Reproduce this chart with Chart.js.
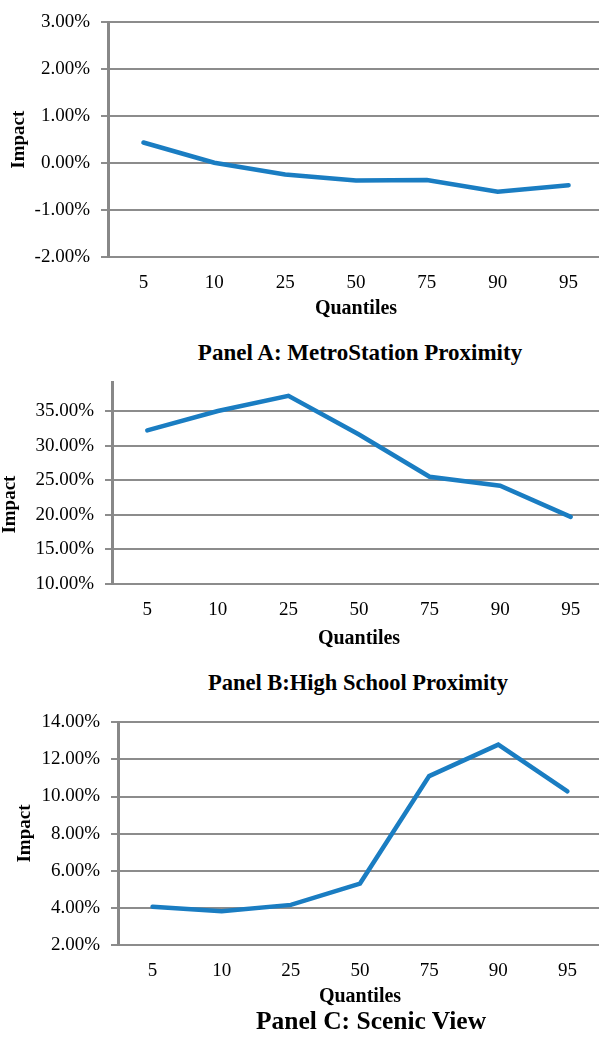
<!DOCTYPE html>
<html>
<head>
<meta charset="utf-8">
<script src="https://cdn.jsdelivr.net/npm/chart.js@4.4.0/dist/chart.umd.min.js"></script>
<style>
body { margin: 0; background: #fff; }
#wrap { position: relative; width: 599px; height: 1044px; overflow: hidden; background: #fff; }
.box { position: absolute; left: 0; }
.box canvas { display: block; }
.ptitle {
	position: absolute;
	font-family: 'Liberation Serif', 'Times New Roman', serif;
	font-weight: bold;
	font-size: 23px;
	color: #000;
	white-space: nowrap;
	transform: translate(-50%, -50%);
}
</style>
</head>
<body>
<div id="wrap">
	<div class="box" style="top:0px"><canvas id="chartA" width="604" height="322"></canvas></div>
	<div class="ptitle" style="left:360px;top:353px">Panel A: MetroStation Proximity</div>
	<div class="box" style="top:360px"><canvas id="chartB" width="606" height="300"></canvas></div>
	<div class="ptitle" style="left:358px;top:683px;font-size:22.5px">Panel B:High School Proximity</div>
	<div class="box" style="top:700px"><canvas id="chartC" width="602" height="320"></canvas></div>
	<div class="ptitle" style="left:371px;top:1021px;font-size:25.5px">Panel C: Scenic View</div>
</div>
<script>
// quantile categories shared by all three panels
const quantiles = ['5', '10', '25', '50', '75', '90', '95'];

// impact in percent
const metroImpact = [0.44, 0.01, -0.24, -0.37, -0.36, -0.61, -0.47];
const schoolImpact = [32.2, 35.0, 37.2, 31.6, 25.5, 24.2, 19.7];
const scenicImpact = [4.05, 3.80, 4.15, 5.30, 11.10, 12.80, 10.28];

// y axis ranges [min, max, step]
const metroRange = [-2, 3, 1];
const schoolRange = [10, 39.13, 5];
const scenicRange = [2, 14, 2];

const serif = "'Liberation Serif', 'Times New Roman', serif";
const gridColor = '#8c8c8c';
const lineColor = '#1a7dc2';

Chart.defaults.font.family = serif;
Chart.defaults.color = '#000';

function makeChart(id, values, range, o) {
	const ctx = document.getElementById(id).getContext('2d');
	return new Chart(ctx, {
		type: 'line',
		data: {
			labels: quantiles,
			datasets: [
				{
					data: values,
					borderColor: lineColor,
					borderWidth: 4.5,
					borderCapStyle: 'round',
					pointRadius: 0,
					tension: 0,
					fill: false,
				},
			],
		},
		options: {
			responsive: false,
			animation: false,
			devicePixelRatio: 1,
			layout: { padding: { top: o.padTop, left: 0, right: 0, bottom: 0 } },
			plugins: { legend: { display: false }, tooltip: { enabled: false } },
			scales: {
				x: {
					offset: true,
					grid: { display: false },
					border: { display: false },
					ticks: { padding: 7, font: { size: 19 } },
					title: {
						display: true,
						text: 'Quantiles',
						font: { size: 20, weight: 'bold' },
						padding: { top: 0, bottom: o.xTitlePad },
					},
					afterFit: (s) => { s.height = o.xHeight; },
				},
				y: {
					min: range[0],
					max: range[1],
					grid: { color: gridColor, lineWidth: 2, tickLength: 7 },
					border: { display: true, color: '#888', width: 3 },
					ticks: {
						stepSize: range[2],
						includeBounds: false,
						padding: 11,
						font: { size: 19 },
						callback: (v) => v.toFixed(2) + '%',
					},
					title: {
						display: true,
						text: o.yTitle || 'Impact',
						font: { size: 19, weight: 'bold', lineHeight: 1 },
						padding: { top: o.yTitlePad, bottom: 0 },
					},
					afterFit: (s) => { s.width = o.axisLeft; },
				},
			},
		},
	});
}

makeChart('chartA', metroImpact, metroRange, { padTop: 18, axisLeft: 108, xHeight: 65, xTitlePad: 1, yTitlePad: 9.5 });
makeChart('chartB', schoolImpact, schoolRange, { padTop: 13, axisLeft: 112, xHeight: 76, xTitlePad: 9, yTitlePad: 0.5, yTitle: 'Impact' + '\u00a0'.repeat(9) });
makeChart('chartC', scenicImpact, scenicRange, { padTop: 19, axisLeft: 118, xHeight: 75.3, xTitlePad: 11, yTitlePad: 15.5 });
</script>
</body>
</html>
